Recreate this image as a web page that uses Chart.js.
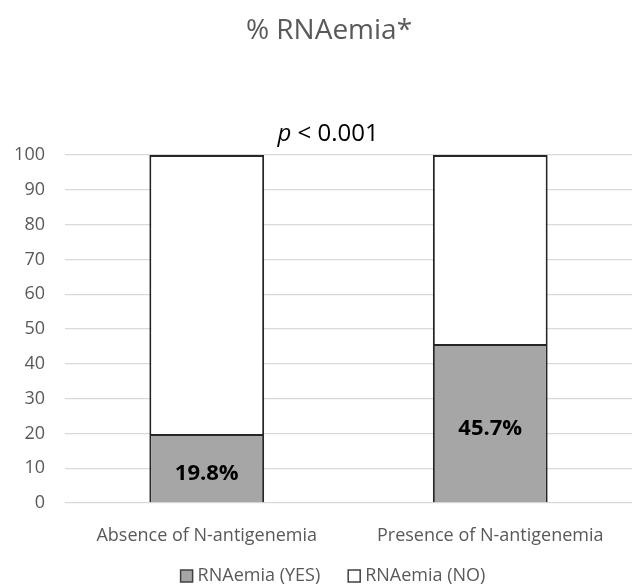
<!DOCTYPE html>
<html>
<head>
<meta charset="utf-8">
<script src="https://cdn.jsdelivr.net/npm/chart.js@4.4.0/dist/chart.umd.min.js"></script>
<style>
  html, body { margin: 0; padding: 0; background: #fff; }
  #wrap { width: 632px; height: 588px; }
</style>
</head>
<body>
<div id="wrap"><canvas id="chartRna"></canvas></div>
<script>
const groups = ["Absence of N-antigenemia", "Presence of N-antigenemia"];
const rnaYes = [19.8, 45.7];
const rnaNo = [80.2, 54.3];
const yesLabels = ["19.8%", "45.7%"];
const titleText = "% RNAemia*";
const pText = "< 0.001";

const FONT = "'Open Sans', 'Noto Sans', sans-serif";

// titel, p-waarde, labels in de balken en legenda
const overlay = {
  id: "overlay",
  afterDraw(chart) {
    const ctx = chart.ctx;
    ctx.save();
    ctx.textBaseline = "middle";

    ctx.fillStyle = "#595959";
    ctx.textAlign = "center";
    ctx.font = "28px " + FONT;
    ctx.fillText(titleText, 329, 31);

    ctx.fillStyle = "#000";
    ctx.textAlign = "left";
    ctx.font = "italic 24px " + FONT;
    const pw = ctx.measureText("p ").width;
    ctx.font = "24px " + FONT;
    const rw = ctx.measureText(pText).width;
    const x0 = 328 - (pw + rw) / 2;
    ctx.font = "italic 24px " + FONT;
    ctx.fillText("p", x0, 134);
    ctx.font = "24px " + FONT;
    ctx.fillText(pText, x0 + pw, 134);

    ctx.textAlign = "center";
    ctx.font = "bold 22px " + FONT;
    chart.getDatasetMeta(0).data.forEach((bar, i) => {
      ctx.fillText(yesLabels[i], bar.x, (bar.y + bar.base) / 2 + 6);
    });

    // legenda
    ctx.font = "18px " + FONT;
    ctx.textAlign = "left";
    const items = chart.data.datasets.map(d => ({ text: d.label, fill: d.backgroundColor }));
    const box = 12, gap = 5, between = 28;
    const widths = items.map(it => ctx.measureText(it.text).width);
    const total = widths.reduce((a, w) => a + box + gap + w, 0) + between * (items.length - 1);
    let x = 333 - total / 2;
    const ly = 576;
    items.forEach((it, i) => {
      ctx.fillStyle = it.fill;
      ctx.fillRect(x, ly - box / 2, box, box);
      ctx.strokeStyle = "#404040";
      ctx.lineWidth = 1.5;
      ctx.strokeRect(x, ly - box / 2, box, box);
      ctx.fillStyle = "#595959";
      ctx.fillText(it.text, x + box + gap, ly);
      x += box + gap + widths[i] + between;
    });
    ctx.restore();
  }
};

new Chart(document.getElementById("chartRna"), {
  type: "bar",
  data: {
    labels: groups,
    datasets: [
      {
        label: "RNAemia (YES)",
        data: rnaYes,
        backgroundColor: "#a6a6a6",
        borderColor: "#262626",
        borderWidth: 2
      },
      {
        label: "RNAemia (NO)",
        data: rnaNo,
        backgroundColor: "#ffffff",
        borderColor: "#262626",
        borderWidth: 2
      }
    ]
  },
  options: {
    responsive: true,
    maintainAspectRatio: false,
    animation: false,
    datasets: { bar: { categoryPercentage: 1, barPercentage: 0.405 } },
    layout: { padding: { top: 155, right: 0, left: 0, bottom: 20 } },
    plugins: {
      tooltip: { enabled: false },
      title: { display: false },
      legend: { display: false }
    },
    scales: {
      x: {
        stacked: true,
        grid: { display: false },
        border: { display: false },
        ticks: { color: "#595959", padding: 14, font: { family: FONT, size: 18 } },
        afterFit: s => { s.height = 65; }
      },
      y: {
        stacked: true,
        min: 0,
        max: 100,
        ticks: { stepSize: 10, color: "#595959", padding: 20, font: { family: FONT, size: 18 } },
        grid: { color: "#d9d9d9", lineWidth: 1.3, drawTicks: false },
        border: { display: false },
        afterFit: s => { s.width = 65; }
      }
    }
  },
  plugins: [overlay]
});
</script>
</body>
</html>
